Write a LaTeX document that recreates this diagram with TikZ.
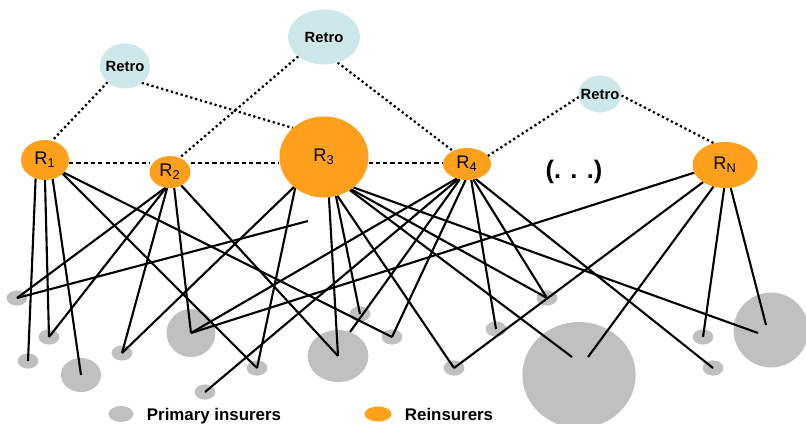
\documentclass[tikz,border=0pt]{standalone}
\usepackage{fontspec}
\setmainfont{Liberation Sans}
\usetikzlibrary{shapes.geometric,backgrounds}
\definecolor{reorange}{RGB}{255,160,28}
\definecolor{insgray}{RGB}{192,192,192}
\definecolor{retroblue}{RGB}{205,231,234}
\begin{document}
\begin{tikzpicture}[x=0.025cm,y=-0.025cm,
	insurer/.style={ellipse,fill=insgray,inner sep=0pt,outer sep=0pt,minimum width=0.52cm,minimum height=0.38cm},
	reinsurer/.style={ellipse,fill=reorange,inner sep=0pt,outer sep=0pt},
	retro/.style={ellipse,fill=retroblue,inner sep=0pt,outer sep=0pt},
	rlabel/.style={font=\fontsize{13}{15}\selectfont},
	retrolabel/.style={font=\bfseries\fontsize{10.5}{12}\selectfont},
	keytext/.style={anchor=base west,font=\bfseries\fontsize{12}{14}\selectfont},
	link/.style={line width=1.5pt},
	retrolink/.style={line width=1.6pt,dash pattern=on 1.6pt off 2pt},
	peerlink/.style={line width=0.8pt,dash pattern=on 3pt off 2.2pt}]
	\useasboundingbox (0,0) rectangle (806,423);
	\node[retro,minimum width=1.25cm,minimum height=1.125cm,label={[retrolabel]center:Retro}] (retroA) at (125,66) {};
	\node[retro,minimum width=1.8cm,minimum height=1.375cm,label={[retrolabel]center:Retro}] (retroB) at (324,37) {};
	\node[retro,minimum width=1.075cm,minimum height=0.925cm,label={[retrolabel]center:Retro}] (retroC) at (600,94) {};
	\node[reinsurer,minimum width=1.2cm,minimum height=1cm,label={[rlabel]center:R\textsubscript{1}}] (R1) at (45,160) {};
	\node[reinsurer,minimum width=1.025cm,minimum height=0.8cm,label={[rlabel]center:R\textsubscript{2}}] (R2) at (170,172) {};
	\node[reinsurer,minimum width=2.225cm,minimum height=2.025cm,label={[rlabel]center:R\textsubscript{3}}] (R3) at (324,157) {};
	\node[reinsurer,minimum width=1.2cm,minimum height=0.8cm,label={[rlabel]center:R\textsubscript{4}}] (R4) at (467,164) {};
	\node[reinsurer,minimum width=1.625cm,minimum height=1.15cm,label={[rlabel]center:R\textsubscript{N}}] (RN) at (725,165) {};
	\node[font=\bfseries\fontsize{18}{20}\selectfont] (more) at (574,172) {(. . .)};
	\begin{pgfonlayer}{background}
		\node[insurer] (P1) at (17,298) {};
		\node[insurer] (P2) at (49,337) {};
		\node[insurer] (P3) at (28,361) {};
		\node[insurer,minimum width=1cm,minimum height=0.85cm] (P4) at (81,375) {};
		\node[insurer] (P5) at (122,353) {};
		\node[insurer,minimum width=1.22cm,minimum height=1.2cm] (P6) at (191,333) {};
		\node[insurer] (P7) at (257,368) {};
		\node[insurer] (P8) at (205,392) {};
		\node[insurer,minimum width=1.52cm,minimum height=1.3cm] (P9) at (338,356) {};
		\node[insurer] (P10) at (360,314) {};
		\node[insurer] (P11) at (392,337) {};
		\node[insurer] (P12) at (547,298) {};
		\node[insurer] (P13) at (496,329) {};
		\node[insurer] (P14) at (454,368) {};
		\node[insurer,minimum width=2.83cm,minimum height=2.65cm] (P15) at (579,375) {};
		\node[insurer] (P16) at (703,337) {};
		\node[insurer] (P17) at (713,368) {};
		\node[insurer,minimum width=1.87cm,minimum height=1.87cm] (P18) at (771,330) {};
		\coordinate (P9e) at (350,332);
		\coordinate (P15a) at (572,357);
		\coordinate (P15b) at (588,357);
		\coordinate (P18a) at (758,333);
		\coordinate (P18b) at (766,325);
		\coordinate (stub) at (308,221);
		\coordinate (peer) at (0,163);
		\draw[peerlink] (R1.east |- peer) -- (R2.west |- peer);
		\draw[peerlink] (R2.east |- peer) -- (R3.west |- peer);
		\draw[peerlink] (R3.east |- peer) -- (R4.west |- peer);
		\draw[retrolink] (retroA.-137) -- (R1.70);
		\draw[retrolink] (retroA.-45) -- (R3.137);
		\draw[retrolink] (retroB.-143) -- (R2.56);
		\draw[retrolink] (retroB.-62) -- (R4.137);
		\draw[retrolink] (retroC.188) -- (R4.21);
		\draw[retrolink] (retroC.-4) -- (RN.117);
		\draw[link] (R1.-117) -- (P3.center);
		\draw[link] (R1.-90) -- (P2.center);
		\draw[link] (R1.-68) -- (P4.center);
		\draw[link] (R1.-38) -- (P7.center);
		\draw[link] (R1.-34) -- (P11.center);
		\draw[link] (R2.-106) -- (P1.center);
		\draw[link] (R2.-104) -- (P2.center);
		\draw[link] (R2.-100) -- (P5.center);
		\draw[link] (R2.-75) -- (P6.center);
		\draw[link] (R2.-50) -- (P9.center);
		\draw[link] (R3.-135) -- (P5.center);
		\draw[link] (R3.-133) -- (P7.center);
		\draw[link] (R3.-83) -- (P9.center);
		\draw[link] (R3.-73) -- (P10.center);
		\draw[link] (R3.-71) -- (P14.center);
		\draw[link] (R3.-50) -- (P12.center);
		\draw[link] (R3.-52) -- (P15a);
		\draw[link] (R3.-46) -- (P18a);
		\draw[link] (R4.-125) -- (P6.center);
		\draw[link] (R4.-120) -- (P8.center);
		\draw[link] (R4.-115) -- (P9e);
		\draw[link] (R4.-95) -- (P11.center);
		\draw[link] (R4.-75) -- (P13.center);
		\draw[link] (R4.-68) -- (P12.center);
		\draw[link] (R4.-60) -- (P17.center);
		\draw[link] (RN.194) -- (P6.center);
		\draw[link] (RN.-142) -- (P14.center);
		\draw[link] (RN.-118) -- (P15b);
		\draw[link] (RN.-92) -- (P16.center);
		\draw[link] (RN.-76) -- (P18b);
		\draw[link] (P1.center) -- (stub);
	\end{pgfonlayer}
	\node[insurer,minimum width=0.625cm,minimum height=0.4cm] (keyins) at (121,414) {};
	\node[keytext] (keyinstext) at (142,420) {Primary insurers};
	\node[reinsurer,minimum width=0.675cm,minimum height=0.375cm] (keyre) at (378,414) {};
	\node[keytext] (keyretext) at (400,420) {Reinsurers};
\end{tikzpicture}
\end{document}
